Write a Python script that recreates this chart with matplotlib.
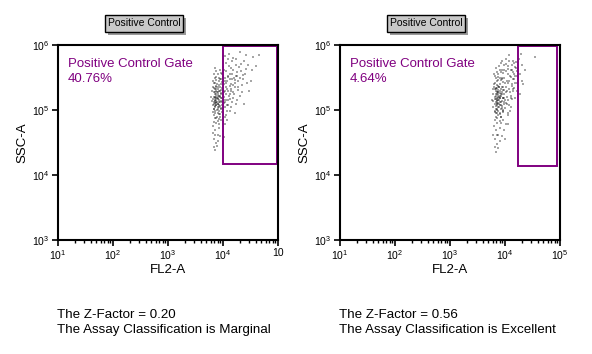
import numpy as np
import matplotlib
matplotlib.use('Agg')
import matplotlib.pyplot as plt
from matplotlib.patches import Rectangle

plt.rcParams['font.family'] = ['Liberation Sans', 'DejaVu Sans']
plt.rcParams['mathtext.default'] = 'regular'

# events, as (log10 FL2-A, log10 SSC-A)
left_events = [
    (3.84, 5.20), (3.86, 5.15), (3.88, 5.25), (3.90, 5.10), (3.92, 5.22), (3.85, 5.05), (3.87, 5.30), (3.89, 5.18),
    (3.91, 5.02), (3.93, 5.12), (3.83, 5.12), (3.86, 5.24), (3.88, 5.08), (3.90, 5.28), (3.92, 5.16), (3.94, 5.06),
    (3.85, 4.98), (3.87, 5.35), (3.89, 5.00), (3.91, 5.32), (3.84, 5.28), (3.86, 5.06), (3.88, 5.19), (3.90, 4.95),
    (3.92, 5.38), (3.95, 5.20), (3.83, 5.02), (3.87, 5.12), (3.89, 5.40), (3.93, 4.98), (3.85, 5.14), (3.88, 5.33),
    (3.90, 5.21), (3.92, 5.04), (3.94, 5.30), (3.96, 5.14), (3.84, 4.92), (3.86, 5.42), (3.91, 5.10), (3.97, 5.26),
    (3.86, 5.18), (3.88, 5.22), (3.87, 5.16), (3.89, 5.13), (3.85, 5.20), (3.90, 5.17), (3.88, 5.11), (3.86, 5.27),
    (3.91, 5.24), (3.84, 5.09), (3.98, 5.08), (3.99, 5.34), (3.95, 4.94), (3.97, 5.02), (3.96, 5.40), (3.93, 5.45),
    (3.85, 4.88), (3.89, 4.90), (3.92, 4.86), (3.94, 5.48),
    (4.02, 5.20), (4.05, 5.35), (4.08, 5.45), (4.03, 5.05), (4.10, 5.30), (4.12, 5.55), (4.06, 5.60), (4.15, 5.40),
    (4.04, 5.50), (4.18, 5.62), (4.09, 5.15), (4.13, 5.25), (4.20, 5.50), (4.07, 4.98), (4.22, 5.35), (4.11, 5.68),
    (4.16, 5.12), (4.25, 5.58), (4.01, 5.40), (4.14, 5.05), (4.19, 5.28), (4.28, 5.45), (4.05, 5.72), (4.24, 5.70),
    (4.30, 5.22), (4.03, 4.90), (4.08, 4.85), (4.17, 5.75), (4.33, 5.60), (4.21, 4.95), (4.02, 5.62), (4.12, 5.48),
    (4.06, 5.25), (4.10, 5.08), (4.26, 5.15), (4.35, 5.38), (4.09, 5.78), (4.18, 5.80), (4.04, 5.12), (4.14, 5.65),
    (4.40, 5.55), (4.45, 5.70), (4.55, 5.82), (4.60, 5.68), (4.38, 5.10), (4.48, 5.30), (4.42, 5.85), (4.30, 5.90),
    (4.65, 5.85), (4.50, 5.45),
    (3.82, 4.75), (3.86, 4.70), (3.90, 4.62), (3.84, 4.55), (3.88, 4.80), (3.92, 4.72), (3.95, 4.60), (3.87, 4.50),
    (3.83, 4.82), (4.00, 4.68), (3.89, 4.45), (3.85, 4.38), (3.93, 4.78), (4.02, 4.58), (3.81, 4.65),
    (3.80, 5.30), (3.82, 5.45), (3.84, 5.55), (3.87, 5.60), (3.81, 5.08), (3.79, 5.20), (3.90, 5.55), (3.85, 5.65),
    (3.95, 5.62), (3.98, 5.55),
    (3.96, 5.31), (3.99, 5.19), (4.01, 5.27), (4.03, 5.44), (4.05, 5.16), (4.07, 5.33), (4.09, 5.52), (4.11, 5.22),
    (4.13, 5.37), (4.15, 5.29), (4.17, 5.47), (4.19, 5.19), (4.21, 5.41), (4.23, 5.53), (4.27, 5.31), (4.29, 5.66),
    (4.31, 5.49), (4.34, 5.27), (4.37, 5.47), (4.41, 5.63), (3.97, 5.57), (4.00, 5.03), (4.02, 5.11), (4.04, 5.29),
    (4.06, 5.41), (4.08, 5.07), (4.10, 5.51), (4.12, 5.17), (4.14, 5.33), (4.16, 5.56), (4.18, 5.38), (4.20, 5.24),
    (4.22, 5.46), (4.24, 5.09), (4.26, 5.52), (4.28, 5.36), (4.32, 5.71), (4.36, 5.54), (4.44, 5.42), (4.52, 5.62),
    (3.81, 5.36), (3.82, 5.17), (3.83, 5.41), (3.84, 5.01), (3.85, 5.33), (3.86, 5.11), (3.87, 5.07), (3.88, 5.37),
    (3.89, 5.27), (3.90, 5.04), (3.91, 5.18), (3.92, 5.29), (3.93, 5.08), (3.94, 5.21), (3.95, 5.36), (3.96, 5.03),
    (3.97, 5.19), (3.98, 5.43), (3.99, 5.13), (4.00, 5.31), (3.82, 4.97), (3.84, 5.34), (3.86, 4.95), (3.88, 5.46),
    (3.90, 5.36), (3.92, 4.94), (3.94, 5.12), (3.96, 5.24), (3.98, 4.97), (4.01, 5.15), (3.87, 4.87), (3.91, 4.83),
    (3.94, 4.89), (3.97, 4.84), (4.03, 4.79), (4.06, 4.92), (4.12, 4.99), (3.86, 4.61), (3.91, 4.53), (3.83, 4.43),
    (3.88, 5.51), (3.92, 5.49), (3.96, 5.47), (4.00, 5.66), (4.04, 5.83), (4.11, 5.86), (4.23, 5.78), (4.38, 5.76),
    (3.86, 5.49), (3.80, 5.14),
]

right_events = [
    (3.82, 5.20), (3.84, 5.12), (3.86, 5.25), (3.88, 5.05), (3.90, 5.18), (3.83, 5.30), (3.85, 5.00), (3.87, 5.15),
    (3.89, 5.35), (3.91, 5.08), (3.81, 5.10), (3.84, 5.22), (3.86, 5.02), (3.88, 5.28), (3.90, 5.12), (3.92, 5.24),
    (3.83, 4.95), (3.85, 5.38), (3.87, 4.98), (3.89, 5.20), (3.82, 5.32), (3.86, 5.14), (3.88, 5.18), (3.90, 4.96),
    (3.92, 5.32), (3.94, 5.14), (3.84, 5.06), (3.86, 5.34), (3.91, 5.26), (3.93, 5.02), (3.85, 5.16), (3.87, 5.22),
    (3.89, 5.10), (3.91, 5.40), (3.94, 5.28), (3.96, 5.18), (3.83, 4.90), (3.85, 5.44), (3.88, 4.92), (3.95, 5.06),
    (3.86, 5.19), (3.87, 5.11), (3.84, 5.17), (3.88, 5.24), (3.85, 5.27), (3.89, 5.15), (3.87, 5.31), (3.90, 5.21),
    (3.86, 5.09), (3.83, 5.24), (3.97, 5.36), (3.98, 5.10), (3.99, 5.25), (3.96, 4.98), (4.00, 5.42), (3.93, 5.46),
    (3.81, 4.98), (3.92, 4.90), (3.95, 5.50), (3.97, 5.00),
    (3.98, 5.50), (4.02, 5.35), (4.05, 5.55), (4.08, 5.45), (4.03, 5.20), (4.10, 5.62), (4.06, 5.68), (4.12, 5.40),
    (4.01, 5.60), (4.15, 5.58), (4.09, 5.28), (4.13, 5.70), (4.18, 5.52), (4.04, 5.10), (4.20, 5.65), (4.11, 5.18),
    (4.16, 5.34), (4.07, 5.75), (3.99, 5.70), (4.14, 5.48), (4.19, 5.42), (4.21, 5.60), (4.02, 5.78), (3.95, 5.62),
    (4.05, 4.95), (4.10, 5.05), (4.17, 5.72), (4.08, 5.85), (4.22, 5.30), (3.92, 5.72),
    (4.27, 5.55), (4.30, 5.70), (4.33, 5.40), (4.28, 5.25), (4.36, 5.62), (4.55, 5.82), (4.26, 5.78),
    (3.80, 4.75), (3.84, 4.70), (3.88, 4.62), (3.82, 4.55), (3.86, 4.80), (3.90, 4.72), (3.94, 4.60), (3.85, 4.48),
    (3.81, 4.84), (3.98, 4.70), (3.87, 4.42), (3.83, 4.35), (3.92, 4.80), (4.00, 4.55), (3.79, 4.62), (4.05, 4.78),
    (3.78, 5.25), (3.80, 5.40), (3.82, 5.52), (3.85, 5.58), (3.79, 5.05), (3.77, 5.15), (3.88, 5.55), (3.84, 5.65),
    (3.90, 5.62), (3.93, 5.58),
    (3.96, 5.31), (3.99, 5.19), (4.01, 5.27), (4.03, 5.44), (4.05, 5.16), (4.07, 5.33), (4.09, 5.52), (4.11, 5.22),
    (4.13, 5.37), (4.15, 5.29), (4.17, 5.47), (4.19, 5.19), (4.21, 5.41), (4.22, 5.53), (4.12, 5.61), (4.18, 5.66),
    (4.06, 5.63), (4.02, 5.71), (4.14, 5.76), (4.20, 5.74), (3.97, 5.57), (4.00, 5.03), (4.02, 5.11), (4.04, 5.29),
    (4.06, 5.41), (4.08, 5.07), (4.10, 5.51), (4.12, 5.17), (4.14, 5.33), (4.16, 5.56),
    (3.80, 5.36), (3.81, 5.17), (3.82, 5.41), (3.83, 5.01), (3.84, 5.33), (3.85, 5.11), (3.86, 5.07), (3.87, 5.37),
    (3.88, 5.27), (3.89, 5.04), (3.90, 5.18), (3.91, 5.29), (3.92, 5.08), (3.93, 5.21), (3.94, 5.36), (3.95, 5.03),
    (3.96, 5.19), (3.97, 5.43), (3.98, 5.13), (3.99, 5.31), (3.81, 4.97), (3.83, 5.34), (3.85, 4.95), (3.87, 5.46),
    (3.89, 5.36), (3.91, 4.94), (3.93, 5.12), (3.95, 5.24), (3.97, 4.97), (4.00, 5.15), (3.86, 4.87), (3.90, 4.83),
    (3.93, 4.89), (3.96, 4.84), (4.02, 4.79), (4.05, 4.92), (4.09, 4.99), (3.85, 4.61), (3.90, 4.53), (3.82, 4.43),
    (3.87, 5.51), (3.91, 5.49), (3.95, 5.47), (3.99, 5.62), (3.94, 5.76), (3.89, 5.68), (3.84, 5.49), (3.79, 5.14),
    (3.78, 5.33), (3.80, 5.56), (4.31, 5.45), (4.29, 5.86),
]

# gates: (x0, x1, y0, y1)
left_gate = (1.0e4, 9.5e4, 1.5e4, 9.6e5)
right_gate = (1.7e4, 9.0e4, 1.4e4, 9.6e5)

gate_pcts = ['40.76%', '4.64%']
z_factors = ['0.20', '0.56']
classes = ['Marginal', 'Excellent']

x_ticks = [1e1, 1e2, 1e3, 1e4, 1e5]
y_ticks = [1e3, 1e4, 1e5, 1e6]
x_labels_left = ['$10^{1}$', '$10^{2}$', '$10^{3}$', '$10^{4}$', '10']
x_labels_right = ['$10^{1}$', '$10^{2}$', '$10^{3}$', '$10^{4}$', '$10^{5}$']
y_labels = ['$10^{3}$', '$10^{4}$', '$10^{5}$', '$10^{6}$']

purple = '#800080'
W, H = 592, 354
fig = plt.figure(figsize=(W / 100, H / 100), dpi=100)

panels = [
    (58, 105, left_events, left_gate, x_labels_left),
    (340, 387, right_events, right_gate, x_labels_right),
]

for i, (px, bx, events, gate, xlabs) in enumerate(panels):
    ax = fig.add_axes([px / W, (H - 240) / H, 220 / W, 195 / H])
    ev = np.array(events)
    ax.scatter(10 ** ev[:, 0], 10 ** ev[:, 1], s=2.0, c='black', alpha=0.35,
               linewidths=0, marker='s')
    ax.set_xscale('log')
    ax.set_yscale('log')
    ax.set_xlim(1e1, 1e5)
    ax.set_ylim(1e3, 1e6)
    ax.set_xticks(x_ticks)
    ax.set_xticklabels(xlabs)
    ax.set_yticks(y_ticks)
    ax.set_yticklabels(y_labels)
    ax.yaxis.set_minor_locator(matplotlib.ticker.NullLocator())
    ax.tick_params(axis='both', which='major', labelsize=7.5, length=4, width=1.2, pad=2)
    ax.tick_params(axis='x', which='minor', length=2.5, width=1)
    for sp in ax.spines.values():
        sp.set_linewidth(1.5)

    x0, x1, y0, y1 = gate
    ax.add_patch(Rectangle((x0, y0), x1 - x0, y1 - y0, fill=False,
                           edgecolor=purple, linewidth=1.4))

    ax.text(10 / 220, 1 - 13 / 195, 'Positive Control Gate\n' + gate_pcts[i], transform=ax.transAxes,
            color=purple, fontsize=9.5, va='top', ha='left', linespacing=1.35)

    ax.set_xlabel('FL2-A', fontsize=9.5, labelpad=1)
    ax.set_ylabel('SSC-A', fontsize=9.5, labelpad=3)

    # title button with drop shadow
    fig.add_artist(Rectangle(((bx + 3) / W, (H - 35) / H), 78 / W, 17 / H, transform=fig.transFigure,
                             facecolor='#9a9a9a', edgecolor='none'))
    fig.add_artist(Rectangle((bx / W, (H - 32) / H), 78 / W, 17 / H, transform=fig.transFigure,
                             facecolor='#c8c8c8', edgecolor='black', linewidth=1))
    fig.text((bx + 39) / W, (H - 23.5) / H, 'Positive Control', fontsize=7.5, ha='center', va='center')

    fig.text((px - 1) / W, (H - 309) / H,
             'The Z-Factor = ' + z_factors[i] + '\nThe Assay Classification is ' + classes[i],
             fontsize=9.6, ha='left', va='top', linespacing=1.35)

fig.savefig('out.png', dpi=100)
